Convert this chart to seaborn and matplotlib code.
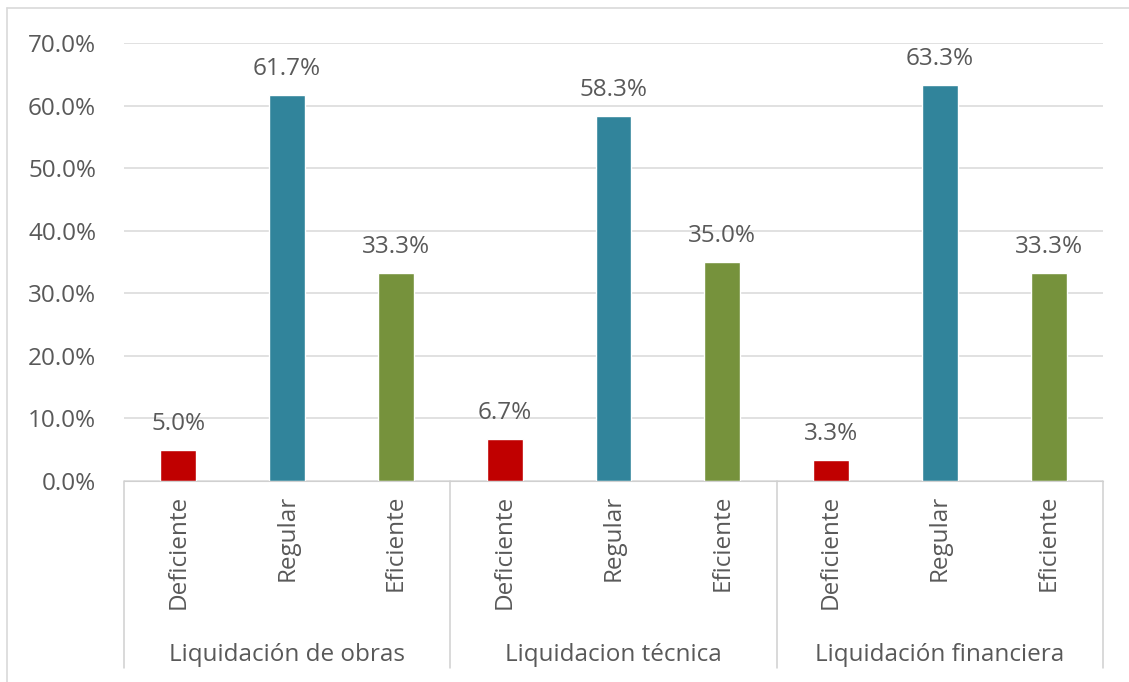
import pandas as pd
import numpy as np
import matplotlib
matplotlib.use("Agg")
import matplotlib.pyplot as plt
import matplotlib.transforms as mtransforms
import seaborn as sns

# Datos del gráfico
grupos = ["Liquidación de obras", "Liquidacion técnica", "Liquidación financiera"]
niveles = ["Deficiente", "Regular", "Eficiente"]
obras = [5.0, 61.7, 33.3]
tecnica = [6.7, 58.3, 35.0]
financiera = [3.3, 63.3, 33.3]
colores = {"Deficiente": "#C00000", "Regular": "#31849B", "Eficiente": "#76923C"}

filas = []
for g, vals in zip(grupos, [obras, tecnica, financiera]):
    for n, v in zip(niveles, vals):
        filas.append({"grupo": g, "nivel": n, "clave": g + "|" + n, "valor": v})
df = pd.DataFrame(filas)

sns.set_style("white")
plt.rcParams["font.family"] = ["Open Sans", "DejaVu Sans"]
gris = "#595959"
fs = 17.5

fig = plt.figure(figsize=(11.29, 6.82), dpi=100)
ax = fig.add_axes([124 / 1129, 1 - 481 / 682, (1103 - 124) / 1129, (481 - 43) / 682])

sns.barplot(data=df, x="clave", y="valor", hue="nivel", order=df["clave"],
            palette=colores, dodge=False, width=0.33, legend=False, ax=ax,
            saturation=1)

for cont in ax.containers:
    ax.bar_label(cont, labels=[f"{b.get_height():.1f}%" for b in cont],
                 padding=10, fontsize=fs, color=gris)

ax.set_ylim(0, 70)
ax.set_xlim(-0.5, len(df) - 0.5)
ax.set_yticks(np.arange(0, 71, 10))
ax.set_yticklabels([f"{t:.1f}%" for t in np.arange(0, 71, 10)])
ax.yaxis.grid(True, color="#D9D9D9", linewidth=1.1)
ax.set_axisbelow(True)
for s in ["top", "right", "left"]:
    ax.spines[s].set_visible(False)
ax.spines["bottom"].set_color("#D0D0D0")
ax.tick_params(axis="y", length=0, pad=20, labelsize=fs, labelcolor=gris)
ax.set_xticks(range(len(df)))
ax.set_xticklabels(df["nivel"], rotation=90, va="top")
ax.tick_params(axis="x", length=0, pad=10, labelsize=fs, labelcolor=gris)
ax.set_xlabel("")
ax.set_ylabel("")

# Ejes de categorías agrupadas
trans = mtransforms.blended_transform_factory(ax.transData, ax.transAxes)
bajo = -(668 - 481) / 438
for i in range(len(grupos) + 1):
    x = i * 3 - 0.5
    ax.plot([x, x], [0, bajo], transform=trans, color="#D0D0D0",
            linewidth=1.1, clip_on=False)
for i, g in enumerate(grupos):
    ax.text(i * 3 + 1, -(655 - 481) / 438, g, transform=trans, ha="center",
            va="center", fontsize=fs, color=gris)

# Marco exterior
fig.add_artist(plt.Line2D([7 / 1129, 7 / 1129], [0, 1 - 8 / 682],
                          transform=fig.transFigure, color="#D9D9D9", linewidth=1.2))
fig.add_artist(plt.Line2D([7 / 1129, 1], [1 - 8 / 682, 1 - 8 / 682],
                          transform=fig.transFigure, color="#D9D9D9", linewidth=1.2))

plt.savefig("out.png", dpi=100)
